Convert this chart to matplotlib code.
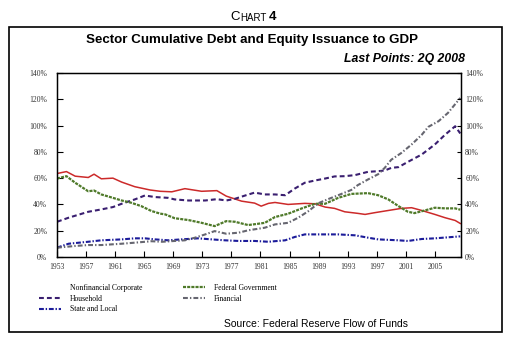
import matplotlib
matplotlib.use("Agg")
import matplotlib.pyplot as plt
from matplotlib.patches import Rectangle
from matplotlib.ticker import FuncFormatter

# Données (année, % du PIB)
nfc_years = [1953.0, 1954.3, 1955.5, 1957.3, 1958.1, 1959.1, 1960.7, 1961.9, 1963.7, 1965.8,
             1967.2, 1968.8, 1970.6, 1972.9, 1975.0, 1976.3, 1978.4, 1980.2, 1981.1, 1982.1,
             1983.0, 1984.8, 1987.1, 1988.5, 1989.9, 1991.2, 1992.6, 1994.4, 1995.4, 1996.7,
             1998.6, 2000.4, 2001.8, 2003.2, 2005.0, 2006.4, 2007.8, 2008.5]
nfc_values = [63.5, 65, 61.5, 60.5, 63, 59.5, 60, 57, 53.5, 51,
              50, 49.6, 52, 50, 50.5, 46.3, 42.5, 41, 38.7, 40.8,
              41.5, 40, 40.8, 40.5, 38, 37, 34.4, 33.2, 32.4, 33.7,
              35.4, 37, 37.5, 35.4, 32.4, 29.9, 27.8, 25.5]

fed_years = [1953.0, 1954.3, 1955.5, 1957.3, 1958.1, 1959.1, 1960.7, 1961.9, 1963.2, 1964.6,
             1966.0, 1967.2, 1967.9, 1969.2, 1971.1, 1972.9, 1974.7, 1976.3, 1977.5, 1979.3,
             1980.7, 1981.6, 1983.0, 1984.8, 1986.7, 1988.5, 1989.9, 1991.7, 1993.5, 1995.8,
             1997.2, 1998.6, 2000.0, 2001.3, 2002.2, 2003.6, 2005.0, 2006.4, 2007.8, 2008.5]
fed_values = [59.7, 61.5, 56.5, 50, 50.6, 47.6, 45, 43, 41.3, 38.7,
              35, 33, 32.4, 29.5, 28.1, 26, 23.5, 27.3, 26.8, 24.3,
              25.3, 26, 30.4, 32.9, 37, 40.5, 40.5, 45, 48, 48.6,
              47, 43.8, 38.7, 34.4, 33.4, 35.4, 37.5, 37, 37, 36]

hh_years = [1953.0, 1954.6, 1957.3, 1959.1, 1960.7, 1961.9, 1963.7, 1965.1, 1966.5, 1968.3,
            1969.2, 1971.1, 1973.4, 1975.0, 1976.3, 1977.5, 1978.9, 1980.2, 1981.6, 1983.0,
            1984.4, 1985.7, 1987.1, 1988.5, 1989.9, 1991.2, 1992.6, 1994.0, 1995.8, 1997.2,
            1998.1, 1999.0, 2000.0, 2001.3, 2003.2, 2005.0, 2006.4, 2007.8, 2008.5]
hh_values = [26.8, 29.9, 34.4, 36.2, 38, 40.5, 43.8, 46.8, 45.6, 45,
             43.8, 43, 43, 44, 43, 44.3, 46.8, 49, 47.6, 47.6,
             47, 52, 56.5, 58.2, 59.7, 61.3, 61.5, 62.3, 64.8, 65.3,
             65.8, 67.8, 68.4, 72.4, 78, 85.6, 93, 99.5, 94]

fin_years = [1953.0, 1955.5, 1957.3, 1959.1, 1961.9, 1963.7, 1966.0, 1967.5, 1970.6, 1972.0,
             1973.4, 1974.7, 1976.3, 1978.0, 1979.3, 1980.7, 1981.6, 1983.0, 1984.8, 1986.2,
             1987.6, 1989.0, 1990.3, 1991.7, 1993.5, 1994.4, 1995.8, 1997.2, 1998.1, 1999.0,
             2000.4, 2001.8, 2003.2, 2004.1, 2005.5, 2006.8, 2008.5]
fin_values = [7.1, 8.4, 9.1, 9.1, 10.1, 10.9, 12, 11.6, 12.7, 14.7,
              17.2, 19.7, 17.7, 18.5, 20.3, 21.5, 22.3, 24.8, 26, 29.9,
              34.9, 41, 44, 47, 51, 54.7, 59, 63, 67.8, 74,
              79.2, 85.6, 93, 99, 103.3, 109.6, 121]

sl_years = [1953.0, 1954.6, 1957.3, 1959.1, 1961.9, 1963.7, 1965.1, 1966.5, 1968.3, 1970.1,
            1972.4, 1974.3, 1976.1, 1978.0, 1980.2, 1982.1, 1984.4, 1985.7, 1987.1, 1989.4,
            1991.7, 1994.0, 1995.8, 1997.2, 2000.0, 2001.3, 2003.2, 2005.0, 2007.8, 2008.5]
sl_values = [7.1, 10.1, 11.6, 12.7, 13.4, 14.2, 14.2, 13.4, 12.7, 13.4,
             14.2, 13.4, 12.7, 12.2, 12.2, 11.6, 12.7, 15.2, 17.2, 17.2,
             17.2, 16.5, 14.7, 13.4, 12.7, 12.2, 13.7, 14.2, 15.4, 15.7]

year_ticks = list(range(1953, 2006, 4))
pct_ticks = list(range(0, 141, 20))

plt.rcParams['lines.scale_dashes'] = False

fig = plt.figure(figsize=(5.09, 3.40), dpi=100)
W, H = 509.0, 340.0

# cadre extérieur
fig.add_artist(Rectangle((9 / W, 1 - 332 / H), (502 - 9) / W, (332 - 27) / H,
                         transform=fig.transFigure, fill=False, lw=1.2, ec='black'))

# titres
fig.text(240 / W, 1 - 17 / H, "C", ha='right', va='center', fontsize=9.5,
         family='Liberation Sans')
fig.text(240 / W, 1 - 17.6 / H, "HART", ha='left', va='center', fontsize=7,
         family='Liberation Sans')
fig.text(269 / W, 1 - 17 / H, "4", ha='left', va='center', fontsize=9.5,
         family='Liberation Sans', weight='bold')
fig.text(252 / W, 1 - 40 / H, "Sector Cumulative Debt and Equity Issuance to GDP",
         ha='center', va='center', fontsize=9.6, weight='bold', family='Liberation Sans')
fig.text(465 / W, 1 - 59 / H, "Last Points: 2Q 2008", ha='right', va='center',
         fontsize=8.8, weight='bold', style='italic', family='Liberation Sans')
fig.text(316 / W, 1 - 324 / H, "Source: Federal Reserve Flow of Funds", ha='center',
         va='center', fontsize=7.5, family='Liberation Sans')

ax = fig.add_axes([57 / W, 1 - 257 / H, (461 - 57) / W, (257 - 73) / H])

l1, = ax.plot(nfc_years, nfc_values, color='#cc2a2a', lw=1.1, label='Nonfinancial Corporate')
l2, = ax.plot(hh_years, hh_values, color='#3a1f70', lw=1.5, dashes=(3.5, 2.2),
              label='Household')
l3, = ax.plot(sl_years, sl_values, color='#1c1c9a', lw=1.5, dashes=(3.5, 1.3, 1, 1.3),
              label='State and Local')
l4, = ax.plot(fed_years, fed_values, color='#4f7a2a', lw=1.6, dashes=(2.2, 0.8),
              label='Federal Government')
l5, = ax.plot(fin_years, fin_values, color='#666670', lw=1.5, dashes=(3.5, 1.5, 1, 1.5),
              label='Financial')

ax.set_xlim(1953, 2008.6)
ax.set_ylim(0, 140)
ax.set_xticks(year_ticks)
ax.set_yticks(pct_ticks)
ax.yaxis.set_major_formatter(FuncFormatter(lambda v, p: "%d%%" % v))
ax.tick_params(axis='x', direction='in', length=4, width=0.8, pad=4, labelsize=5.5,
               labelcolor='#333333')
ax.tick_params(axis='y', direction='in', length=4, width=0.8, pad=7, labelsize=5.5,
               labelcolor='#333333')
for lab in ax.get_xticklabels() + ax.get_yticklabels():
    lab.set_family('Liberation Serif')
for s in ax.spines.values():
    s.set_linewidth(1.0)

ax2 = ax.twinx()
ax2.set_ylim(0, 140)
ax2.set_yticks(pct_ticks)
ax2.yaxis.set_major_formatter(FuncFormatter(lambda v, p: "%d%%" % v))
ax2.tick_params(axis='y', direction='in', length=3, width=0.8, pad=3, labelsize=5.5,
                labelcolor='#333333')
for lab in ax2.get_yticklabels():
    lab.set_family('Liberation Serif')

# légende sous le graphique
leg = fig.legend(handles=[l1, l2, l3, l4, l5], ncol=2, loc='upper left',
                 bbox_to_anchor=(36 / W, 1 - 281 / H), frameon=False,
                 prop={'family': 'Liberation Serif', 'size': 5.5},
                 handlelength=2.9, handletextpad=1.1, columnspacing=5.4,
                 labelspacing=0.35, borderaxespad=0)
leg.get_lines()[0].set_alpha(0.0)

fig.savefig("out.png", dpi=100)
